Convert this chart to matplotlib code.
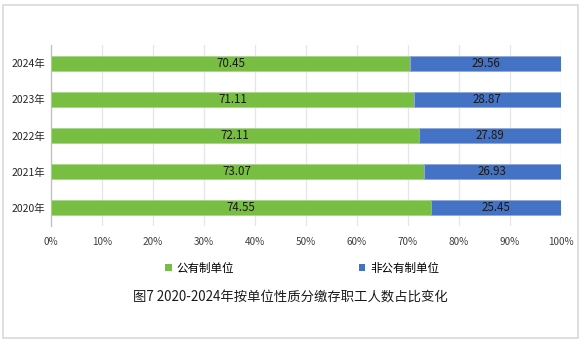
import matplotlib
matplotlib.use("Agg")
import matplotlib.pyplot as plt
from matplotlib.patches import Rectangle, Patch
import numpy as np

plt.rcParams['font.family'] = ['Noto Sans CJK SC', 'DejaVu Sans']

years = ["2020年", "2021年", "2022年", "2023年", "2024年"]
public = [74.55, 73.07, 72.11, 71.11, 70.45]
nonpublic = [25.45, 26.93, 27.89, 28.87, 29.56]
xticks = [0, 10, 20, 30, 40, 50, 60, 70, 80, 90, 100]
series_names = ["公有制单位", "非公有制单位"]
title = "图7 2020-2024年按单位性质分缴存职工人数占比变化"

green = "#78BE43"
blue = "#4472C4"

fig = plt.figure(figsize=(5.82, 3.43), dpi=100)
fig.patches.append(Rectangle((3/582, 5/343), 575/582, 333/343, transform=fig.transFigure,
                             fill=False, edgecolor="#D9D9D9", linewidth=1.2))
ax = fig.add_axes([51/582, 1-226/343, 510/582, 181/343])

y = np.arange(len(years))
ax.barh(y, public, height=0.41, color=green, edgecolor="#A9D58A", linewidth=0.6, zorder=3)
ax.barh(y, nonpublic, left=public, height=0.41, color=blue, edgecolor="#8FAADC", linewidth=0.6, zorder=3)

for i in range(len(years)):
    ax.text(public[i]/2, y[i], f"{public[i]:.2f}", ha="center", va="center", fontsize=8.3,
            color="#1a1a1a", zorder=4)
    ax.text(public[i] + nonpublic[i]/2, y[i], f"{nonpublic[i]:.2f}", ha="center", va="center",
            fontsize=8.3, color="#1a1a1a", zorder=4)

ax.set_xlim(0, 100)
ax.set_ylim(-0.5, len(years)-0.5)
ax.set_xticks(xticks)
ax.set_xticklabels([f"{t}%" for t in xticks], fontsize=7.2, color="#404040")
ax.set_yticks(y)
ax.set_yticklabels(years, fontsize=7.5, color="#262626")
ax.tick_params(axis="both", length=0, pad=8)
ax.tick_params(axis="y", pad=4)
ax.grid(axis="x", color="#E6E6E6", linewidth=0.9, zorder=0)
for s in ["top", "right", "bottom"]:
    ax.spines[s].set_visible(False)
ax.spines["left"].set_color("#BFBFBF")
ax.spines["left"].set_linewidth(0.9)

handles = [Patch(facecolor=green, edgecolor="none"), Patch(facecolor=blue, edgecolor="none")]
fig.legend(handles, series_names, loc="center", bbox_to_anchor=(302/582, 1-268/343), ncol=2,
           frameon=False, fontsize=8.3, handlelength=0.6, handleheight=0.6, handletextpad=0.4,
           columnspacing=10.8)

fig.text(290/582, 1-298/343, title, ha="center", va="center", fontsize=9.6, color="#1a1a1a")

fig.savefig("out.png", dpi=100)
